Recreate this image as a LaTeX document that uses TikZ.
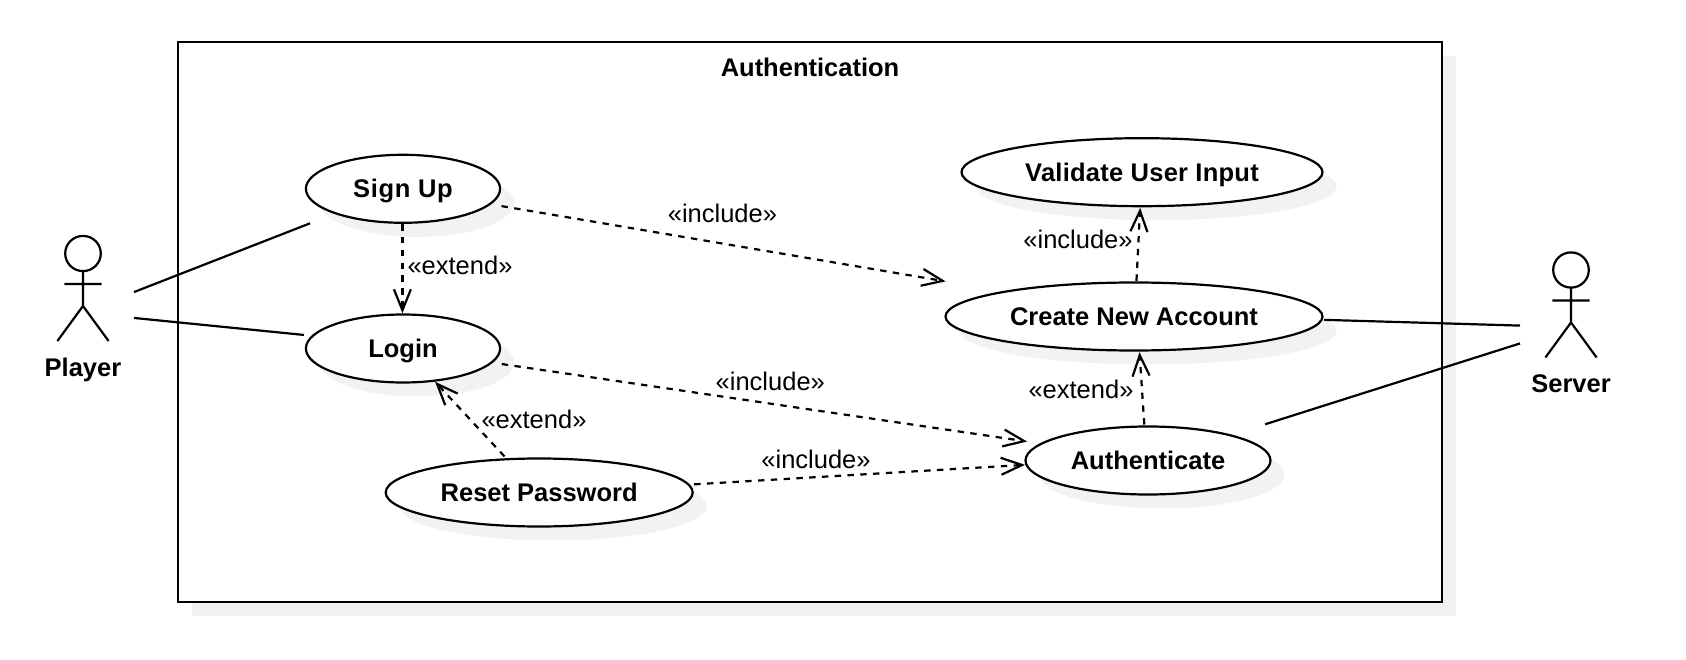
\documentclass[tikz,border=0pt]{standalone}
\usepackage{fontspec}
\setmainfont{Liberation Sans}
\usetikzlibrary{arrows.meta,shapes.geometric,shadows}
\definecolor{shadowgray}{HTML}{F2F2F2}
\tikzset{
  x=1pt,y=-1pt,
  softshadow/.style={general shadow={fill=shadowgray,draw=none,shadow xshift=14pt,shadow yshift=-14pt}},
  txt/.style={font=\fontsize{25.5}{30}\selectfont},
  boldtxt/.style={font=\fontsize{25.5}{30}\selectfont\bfseries},
  usecase/.style={ellipse,draw=black,fill=white,line width=2.2pt,inner sep=0pt,outer sep=0pt,
    minimum height=68pt,softshadow,boldtxt,text height=19.4pt,text depth=1pt},
  container/.style={rectangle,draw=black,fill=white,line width=2.2pt,inner sep=0pt,outer sep=0pt,softshadow},
  actorbox/.style={rectangle,inner sep=0pt,outer sep=0pt,minimum width=102pt,minimum height=105pt},
  lbl/.style={txt,anchor=base,inner sep=0pt},
  boldlbl/.style={boldtxt,anchor=base,inner sep=0pt},
  assoc/.style={line width=2.2pt},
  dep/.style={line width=2.2pt,dash pattern=on 6.4pt off 6.4pt,
    -{Straight Barb[length=21pt,width=17pt,line width=2.2pt]}},
  actorfig/.pic={
    \draw[line width=2.2pt,line cap=butt]
      (0,-35) circle[x radius=17.8pt,y radius=17.6pt]
      (0,-17.2) -- (0,17.5)
      (-18.7,-4.5) -- (18.7,-4.5)
      (-25.6,52.5) -- (0,17.5) -- (25.6,52.5);
  }
}
\begin{document}
\begin{tikzpicture}
\useasboundingbox (0,0) rectangle (1686,660);
\node[container,minimum width=1264pt,minimum height=560pt] (frame) at (810,322) {};
\node[boldlbl] (title) at (810,77) {Authentication};

\node[usecase,minimum width=194.2pt] (signup) at (403,188.8) {\addfontfeature{LetterSpace=2.5}Sign Up};
\node[usecase,minimum width=194.2pt] (login) at (403,348.5) {Login};
\node[usecase,minimum width=307pt] (reset) at (539.2,492.5) {Reset Password};
\node[usecase,minimum width=361pt] (validate) at (1142,172.2) {\addfontfeature{LetterSpace=1}Validate User Input};
\node[usecase,minimum width=377pt] (create) at (1134,316.5) {Create New Account};
\node[usecase,minimum width=245pt] (auth) at (1148,460.5) {Authenticate};

\node[actorbox] (player) at (83,288.5) {};
\pic at (player.center) {actorfig};
\node[boldlbl] (playerlabel) at (83,376.7) {Player};
\node[actorbox] (server) at (1571,305) {};
\pic at (server.center) {actorfig};
\node[boldlbl] (serverlabel) at (1571,392) {Server};

\draw[assoc,shorten >=27.5pt] (player.-4.5) -- (signup.200.7);
\draw[assoc,shorten >=9pt] (player.-30.6) -- (login.172.5);
\draw[assoc,shorten <=2.5pt] (create.-1.72) -- (server.202.4);
\draw[assoc,shorten <=36.5pt] (auth.17.41) -- (server.217.4);

\draw[dep,shorten <=1.4pt,shorten >=1.3pt] (signup.-91.7) -- (login.91.7);
\draw[dep,shorten <=3.8pt,shorten >=1.5pt] (reset.134.5) -- (login.-46.4);
\draw[dep,shorten <=12pt,shorten >=61pt] (signup.-10.2) -- (create.169.4);
\draw[dep,shorten <=10.4pt,shorten >=14.7pt] (login.-9.2) -- (auth.171.8);
\draw[dep,shorten <=5.6pt,shorten >=1.5pt] (reset.3.1) -- (auth.182.66);
\draw[dep,shorten <=1.7pt,shorten >=1.6pt] (create.86.77) -- (validate.-93.9);
\draw[dep,shorten <=2pt,shorten >=1.7pt] (auth.96.48) -- (create.-81.83);

\node[lbl] (l1) at (460,274.3) {«extend»};
\node[lbl] (l2) at (534,428) {«extend»};
\node[lbl] (l3) at (722.4,223) {«include»};
\node[lbl] (l4) at (770.3,390.3) {«include»};
\node[lbl] (l5) at (816,468) {«include»};
\node[lbl] (l6) at (1078,248.7) {«include»};
\node[lbl] (l7) at (1081,398.3) {«extend»};
\end{tikzpicture}
\end{document}
